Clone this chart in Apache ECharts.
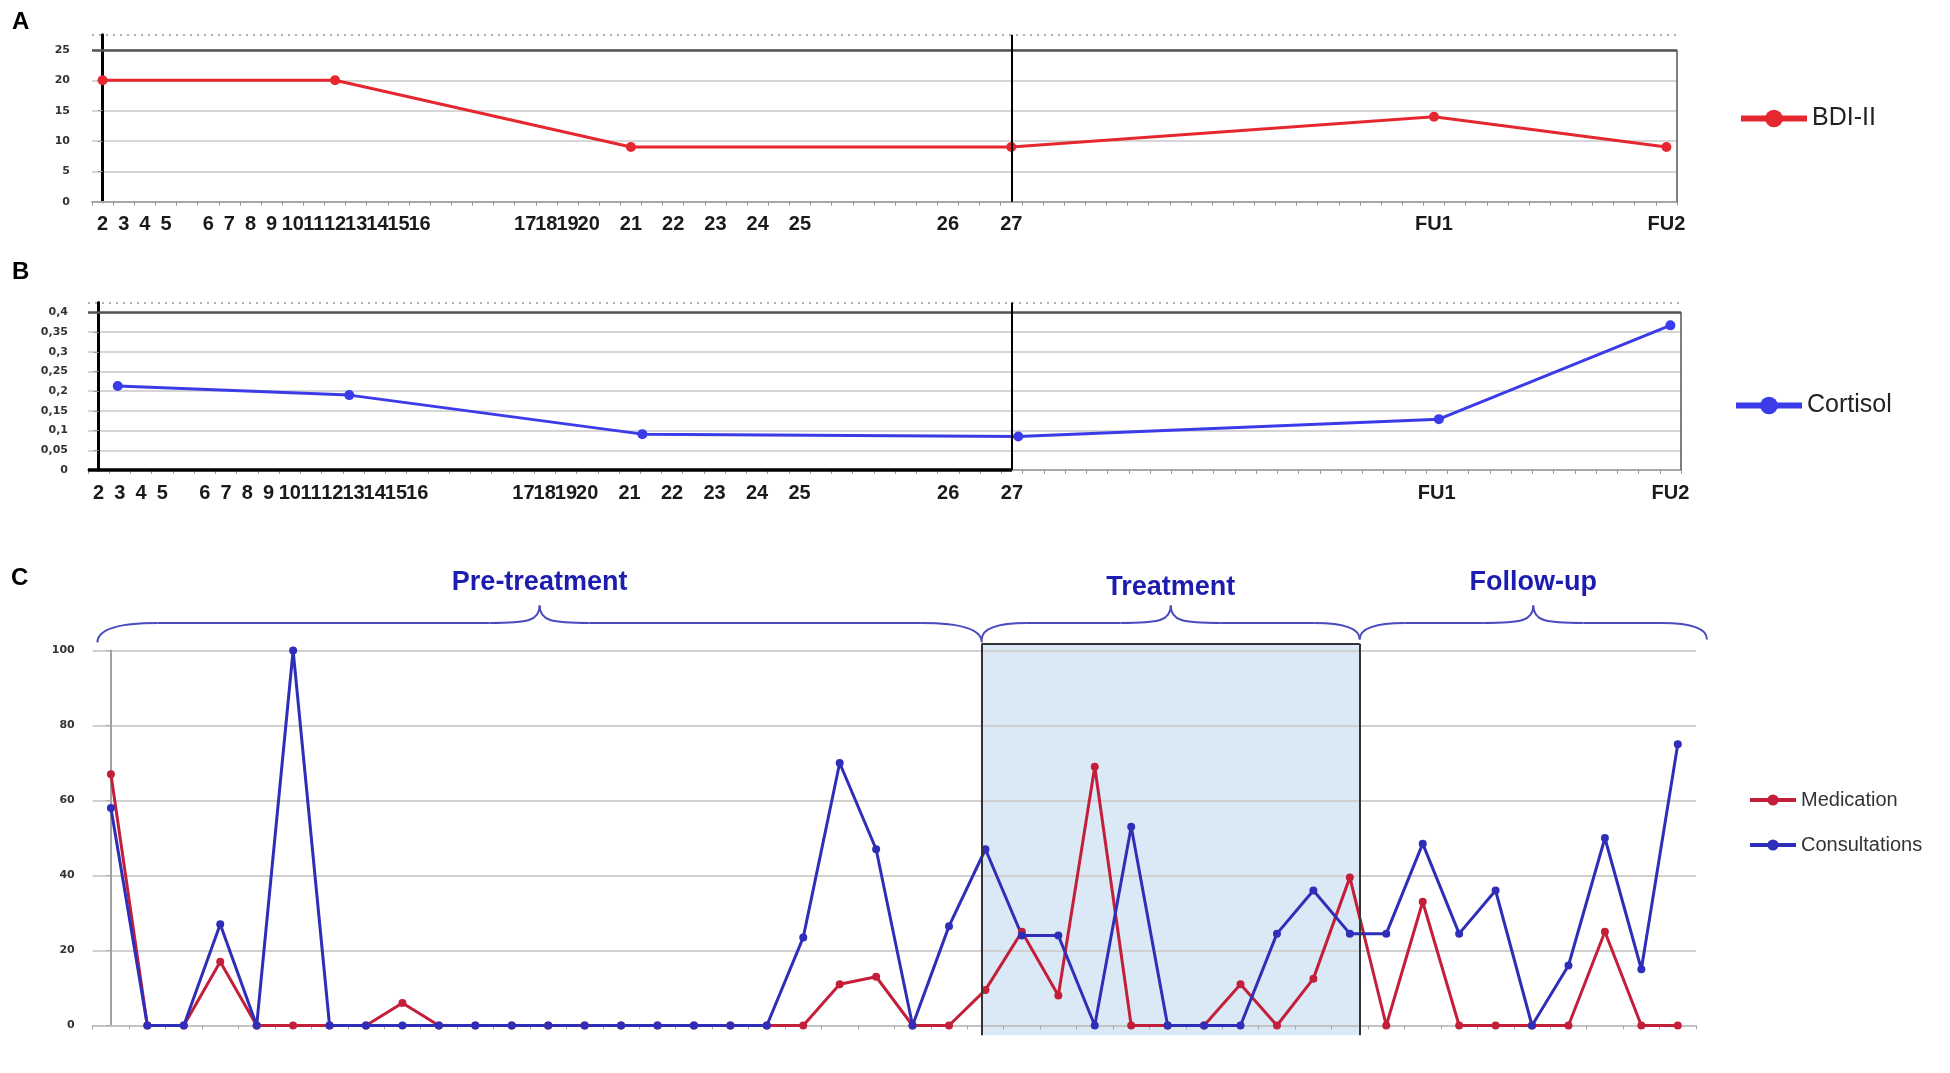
<!DOCTYPE html>
<html><head><meta charset="utf-8">
<script src="https://cdn.jsdelivr.net/npm/echarts@6/dist/echarts.min.js"></script>
<style>html,body{margin:0;padding:0;background:#fff}#c{width:1950px;height:1073px}</style>
</head><body><div id="c"></div>
<script>
// ---------- DATA ----------
const sessionLabels = ['2','3','4','5','','6','7','8','9','10','11','12','13','14','15','16','','','','',
  '17','18','19','20','','21','','22','','23','','24','','25','','','','','','',
  '26','','','27','','','','','','','','','','','','','','','','','','','',
  'FU1','','','','','','','','','','','FU2'];
const bdiTime = [0, 11, 25, 43, 63, 74];
const bdiValues = [20, 20, 9, 9, 14, 9];
const cortisolTime = [0.9, 11.8, 25.6, 43.3, 63.1, 74];
const cortisolValues = [0.213, 0.19, 0.091, 0.085, 0.129, 0.367];
const medication = [67,0,0,17,0,0,0,0,6,0,0,0,0,0,0,0,0,0,0,0,11,13,0,0,9.5,25,8,69,0,0,0,11,0,12.5,39.5,0,33,0,0,0,0,25,0,0];
const consultations = [58,0,0,27,0,100,0,0,0,0,0,0,0,0,0,0,0,0,0,23.5,70,47,0,26.5,47,24,24,0,53,0,0,0,24.5,36,24.5,24.5,48.5,24.5,36,0,16,50,15,75];
const visitsC = medication.map((_, i) => String(i + 1));
const phaseNames = ['Pre-treatment', 'Treatment', 'Follow-up'];
const phaseBounds = [-0.37, 23.9, 34.27, 43.8];

// ---------- CHART ----------
const chart = echarts.init(document.getElementById('c'), null, {renderer: 'canvas'});
const idx27 = sessionLabels.indexOf('27');
const xLabelStyle = {interval: 0, fontFamily: 'Liberation Sans', fontWeight: 'bold', fontSize: 20, color: '#1a1a1a', margin: 13};
const yLabelStyle = {fontFamily: 'DejaVu Sans', fontWeight: 'bold', fontSize: 11, color: '#333'};
const gridSplit = {show: true, showMaxLine: false, lineStyle: {color: '#d6d6d6', width: 2}};
const ml = (lines) => ({silent: true, symbol: 'none', label: {show: false}, emphasis: {disabled: true}, data: lines});
const seg = (x0, y0, x1, y1, style) => [{coord: [x0, y0], lineStyle: style}, {coord: [x1, y1]}];

const option = {
  animation: false,
  backgroundColor: '#fff',
  title: [
    {text: 'A', left: 7, top: 5, textStyle: {fontFamily: 'Liberation Sans', fontWeight: 'bold', fontSize: 24, color: '#000'}},
    {text: 'B', left: 7, top: 255, textStyle: {fontFamily: 'Liberation Sans', fontWeight: 'bold', fontSize: 24, color: '#000'}},
    {text: 'C', left: 6, top: 561, textStyle: {fontFamily: 'Liberation Sans', fontWeight: 'bold', fontSize: 24, color: '#000'}}
  ],
  legend: [
    {data: ['BDI-II'], left: 1733, top: 101, itemWidth: 66, itemHeight: 22, itemGap: 0,
     lineStyle: {width: 6},
     textStyle: {fontFamily: 'Liberation Sans', fontSize: 25, color: '#222'}},
    {data: ['Cortisol'], left: 1728, top: 388, itemWidth: 66, itemHeight: 22, itemGap: 0,
     lineStyle: {width: 6},
     textStyle: {fontFamily: 'Liberation Sans', fontSize: 25, color: '#222'}},
    {data: ['Medication', 'Consultations'], orient: 'vertical', left: 1743, top: 785, itemWidth: 46, itemHeight: 14, itemGap: 25,
     lineStyle: {width: 4},
     textStyle: {fontFamily: 'Liberation Sans', fontSize: 20, color: '#333'}}
  ],
  grid: [
    {left: 92, right: 273, top: 34.8, height: 166.9, outerBoundsMode: 'none'},
    {left: 88, right: 269, top: 302.5, height: 167.5, outerBoundsMode: 'none'},
    {left: 92.7, right: 254, top: 650.5, height: 375, outerBoundsMode: 'none'},
    {left: 92.7, right: 254, top: 643.75, height: 391.5, outerBoundsMode: 'none'}
  ],
  xAxis: [
    {type: 'category', gridIndex: 0, data: sessionLabels, boundaryGap: true,
     axisLine: {show: true, lineStyle: {color: '#a8a8a8', width: 2}},
     axisTick: {show: true, interval: 0, length: 4, lineStyle: {color: '#999'}},
     axisLabel: xLabelStyle, splitLine: {show: false}},
    {type: 'value', gridIndex: 0, min: -0.5, max: sessionLabels.length - 0.5, show: false},
    {type: 'category', gridIndex: 1, data: sessionLabels, boundaryGap: true,
     axisLine: {show: true, lineStyle: {color: '#a8a8a8', width: 2}},
     axisTick: {show: true, interval: 0, length: 4, lineStyle: {color: '#999'}},
     axisLabel: xLabelStyle, splitLine: {show: false}},
    {type: 'value', gridIndex: 1, min: -0.5, max: sessionLabels.length - 0.5, show: false},
    {type: 'category', gridIndex: 2, data: visitsC, boundaryGap: true,
     axisLine: {show: true, lineStyle: {color: '#c4c4c4', width: 2}},
     axisTick: {show: true, interval: 0, length: 4, lineStyle: {color: '#aaa'}},
     axisLabel: {show: false}, splitLine: {show: false}},
    {type: 'value', gridIndex: 2, min: -0.5, max: medication.length - 0.5, show: false},
    {type: 'value', gridIndex: 3, min: -0.5, max: medication.length - 0.5, show: false}
  ],
  yAxis: [
    {type: 'value', gridIndex: 0, min: 0, max: 27.5, interval: 5,
     axisLine: {show: true, lineStyle: {color: '#000', width: 3}},
     axisTick: {show: true, length: 5, lineStyle: {color: '#999'}},
     axisLabel: Object.assign({showMaxLabel: false, margin: 22}, yLabelStyle),
     splitLine: gridSplit},
    {type: 'value', gridIndex: 1, min: 0, max: 0.425, interval: 0.05,
     axisLine: {show: true, lineStyle: {color: '#000', width: 3}},
     axisTick: {show: true, length: 5, lineStyle: {color: '#999'}},
     axisLabel: Object.assign({showMaxLabel: false, margin: 20,
       formatter: v => String(+v.toFixed(2)).replace('.', ',')}, yLabelStyle),
     splitLine: gridSplit},
    {type: 'value', gridIndex: 2, min: 0, max: 100, interval: 20,
     axisLine: {show: true, lineStyle: {color: '#a0a0a0', width: 2}},
     axisTick: {show: true, length: 5, lineStyle: {color: '#aaa'}},
     axisLabel: Object.assign({margin: 18}, yLabelStyle),
     splitLine: {show: true, lineStyle: {color: '#d0d0d0', width: 2}}},
    {type: 'value', gridIndex: 3, min: -2.6, max: 101.8, show: false}
  ],
  series: [
    {name: 'BDI-II', type: 'line', xAxisIndex: 1, yAxisIndex: 0,
     data: bdiTime.map((t, i) => [t, bdiValues[i]]),
     symbol: 'circle', symbolSize: 10, color: '#e5282f', lineStyle: {width: 3, color: '#e5282f'},
     markLine: ml([
       seg(-0.5, 27.5, 74.5, 27.5, {color: '#b0b0b0', width: 2, type: [2, 5]}),
       seg(-0.5, 25, 74.5, 25, {color: '#555', width: 2.5, type: 'solid'}),
       seg(74.5, 0, 74.5, 25, {color: '#555', width: 1.5, type: 'solid'}),
       seg(idx27, 0, idx27, 27.5, {color: '#000', width: 2, type: 'solid'})
     ])},
    {name: 'Cortisol', type: 'line', xAxisIndex: 3, yAxisIndex: 1,
     data: cortisolTime.map((t, i) => [t, cortisolValues[i]]),
     symbol: 'circle', symbolSize: 10, color: '#3b3bea', lineStyle: {width: 3, color: '#3b3bea'},
     markLine: ml([
       seg(-0.5, 0.425, 74.5, 0.425, {color: '#b0b0b0', width: 2, type: [2, 5]}),
       seg(-0.5, 0.4, 74.5, 0.4, {color: '#555', width: 2.5, type: 'solid'}),
       seg(74.5, 0, 74.5, 0.4, {color: '#555', width: 1.5, type: 'solid'}),
       seg(idx27, 0, idx27, 0.425, {color: '#000', width: 2, type: 'solid'}),
       seg(-0.5, 0, idx27, 0, {color: '#000', width: 3.5, type: 'solid'})
     ])},
    {name: 'Medication', type: 'line', xAxisIndex: 5, yAxisIndex: 2,
     data: medication.map((v, i) => [i, v]),
     symbol: 'circle', symbolSize: 8, color: '#c41f3a', lineStyle: {width: 3, color: '#c41f3a'}},
    {name: 'Consultations', type: 'line', xAxisIndex: 5, yAxisIndex: 2,
     data: consultations.map((v, i) => [i, v]),
     symbol: 'circle', symbolSize: 8, color: '#2e2eb8', lineStyle: {width: 3, color: '#2e2eb8'}},
    {name: 'treatmentBox', type: 'line', xAxisIndex: 6, yAxisIndex: 3, data: [], z: -1, silent: true,
     markArea: {silent: true, z: -1, itemStyle: {color: '#dbe8f5'}, label: {show: false},
       data: [[{xAxis: phaseBounds[1], yAxis: -2.6}, {xAxis: phaseBounds[2], yAxis: 101.8}]]},
     markLine: ml([
       seg(phaseBounds[1], -2.6, phaseBounds[1], 101.8, {color: '#333', width: 2, type: 'solid'}),
       seg(phaseBounds[2], -2.6, phaseBounds[2], 101.8, {color: '#333', width: 2, type: 'solid'}),
       seg(phaseBounds[1], 101.8, phaseBounds[2], 101.8, {color: '#333', width: 2, type: 'solid'})
     ])}
  ]
};
chart.setOption(option);

// ---------- Phase braces (positioned through the axes) ----------
const braceStyle = {stroke: '#4b4bc0', lineWidth: 2, fill: null};
function braceParts(x0, x1, yE, yB, yC, r) {
  const xm = (x0 + x1) / 2, h = 50;
  const mk = (type, shape) => ({type, silent: true, z: 10, shape, style: braceStyle});
  return [
    mk('bezierCurve', {x1: x0, y1: yE, cpx1: x0, cpy1: yB, x2: x0 + r, y2: yB}),
    mk('line', {x1: x0 + r, y1: yB, x2: xm - h, y2: yB}),
    mk('bezierCurve', {x1: xm - h, y1: yB, cpx1: xm - 12, cpy1: yB, cpx2: xm, cpy2: yB - 2, x2: xm, y2: yC}),
    mk('bezierCurve', {x1: xm, y1: yC, cpx1: xm, cpy1: yB - 2, cpx2: xm + 12, cpy2: yB, x2: xm + h, y2: yB}),
    mk('line', {x1: xm + h, y1: yB, x2: x1 - r, y2: yB}),
    mk('bezierCurve', {x1: x1 - r, y1: yB, cpx1: x1, cpy1: yB, x2: x1, y2: yE})
  ];
}
const yTop = chart.convertToPixel({yAxisIndex: 2}, 100);
let graphics = [];
phaseNames.forEach((name, i) => {
  const x0 = chart.convertToPixel({xAxisIndex: 5}, phaseBounds[i]);
  const x1 = chart.convertToPixel({xAxisIndex: 5}, phaseBounds[i + 1]);
  const yE = yTop - (i === 0 ? 8 : 11);
  graphics = graphics.concat(braceParts(x0, x1, yE, yTop - 27.5, yTop - 45, i === 0 ? 60 : 45));
  graphics.push({type: 'text', silent: true, z: 10, x: (x0 + x1) / 2, y: yTop - (i === 1 ? 63 : 68),
    style: {text: name, fill: '#1c1cb0', font: 'bold 27px "Liberation Sans"', textAlign: 'center', textVerticalAlign: 'middle'}});
});
chart.setOption({graphic: graphics});
</script></body></html>
